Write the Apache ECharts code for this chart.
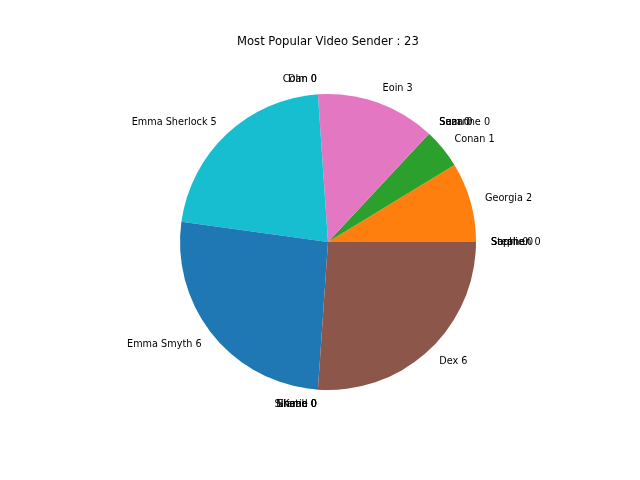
<!DOCTYPE html>
<html>
<head>
<meta charset="utf-8">
<script src="https://cdn.jsdelivr.net/npm/echarts@6/dist/echarts.min.js"></script>
<style>
	html, body { margin: 0; padding: 0; background: #fff; }
	#myChart { width: 640px; height: 480px; }
</style>
</head>
<body>
<div id="myChart"></div>
<script type="text/javascript">
	// senders in the order they go round the pie (counter-clockwise from 3 o'clock)
	var senders = ["Sarah", "Georgia", "Conan", "Sean", "Suzanne", "Sam", "Eoin", "Colm", "Dan",
		"Emma Sherlock", "Emma Smyth", "Shane", "Niamh", "Katie", "Sinead", "Dex", "Sophie", "Stephen"];
	var videos = [0, 2, 1, 0, 0, 0, 3, 0, 0, 5, 6, 0, 0, 0, 0, 6, 0, 0];
	var tab10 = ["#1f77b4", "#ff7f0e", "#2ca02c", "#d62728", "#9467bd",
		"#8c564b", "#e377c2", "#7f7f7f", "#bcbd22", "#17becf"];

	var total = videos.reduce(function (a, b) { return a + b; }, 0);
	var pieData = senders.map(function (name, i) {
		return { name: name, value: videos[i] };
	});

	var myChart = echarts.init(document.getElementById('myChart'));
	var option = {
		animation: false,
		color: tab10,
		title: {
			text: 'Most Popular Video Sender : ' + total,
			left: 237,
			top: 36,
			padding: 0,
			textStyle: {
				fontFamily: 'DejaVu Sans',
				fontSize: 11.6,
				fontWeight: 'normal',
				color: '#000'
			}
		},
		series: [{
			type: 'pie',
			center: [328, 242],
			radius: 148,
			startAngle: 0,
			clockwise: false,
			avoidLabelOverlap: false,
			minShowLabelAngle: 0,
			stillShowZeroSum: true,
			label: {
				show: true,
				position: 'outside',
				formatter: '{b} {c}',
				fontFamily: 'DejaVu Sans',
				fontSize: 9.7,
				color: '#000'
			},
			labelLine: {
				show: false,
				length: 15,
				length2: -5
			},
			labelLayout: { hideOverlap: false },
			itemStyle: { borderWidth: 0 },
			emphasis: { disabled: true },
			data: pieData
		}]
	};
	myChart.setOption(option, true);
</script>
</body>
</html>
